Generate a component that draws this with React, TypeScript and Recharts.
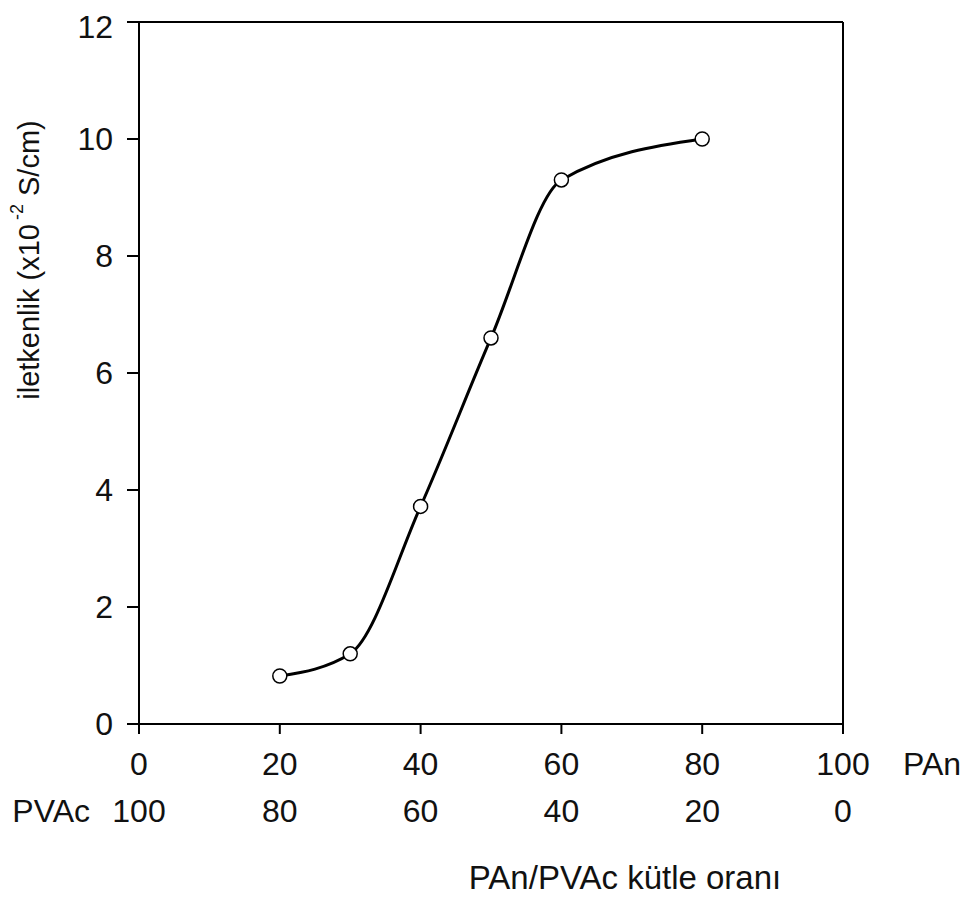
import React from 'react';
import { LineChart, Line, XAxis, YAxis, ReferenceLine } from 'recharts';

// PAn kütle oranı (%) ve iletkenlik (x10^-2 S/cm)
const panRatio = [20, 30, 40, 50, 60, 80];
const conductivity = [0.82, 1.2, 3.72, 6.6, 9.3, 10.0];

const panTicks = [0, 20, 40, 60, 80, 100];
const pvacTicks = [100, 80, 60, 40, 20, 0];
const yTicks = [0, 2, 4, 6, 8, 10, 12];

const data = panRatio.map((x, i) => ({ x, y: conductivity[i] }));

const FONT = '"Liberation Sans", Arial, sans-serif';
const INK = '#111';
const FS = 32;

const XTick = (props: any) => {
  const { x, y, payload, index } = props;
  const i = panTicks.indexOf(payload.value);
  return (
    <g>
      <text x={x} y={y + 39} textAnchor="middle" fontSize={FS} fontFamily={FONT} fill={INK}>
        {payload.value}
      </text>
      <text x={x} y={y + 86} textAnchor="middle" fontSize={FS} fontFamily={FONT} fill={INK}>
        {pvacTicks[i]}
      </text>
      {index === 0 && (
        <text x={x - 49} y={y + 86} textAnchor="end" fontSize={FS} fontFamily={FONT} fill={INK}>
          PVAc
        </text>
      )}
      {i === panTicks.length - 1 && (
        <text x={x + 60} y={y + 39} textAnchor="start" fontSize={FS} fontFamily={FONT} fill={INK}>
          PAn
        </text>
      )}
    </g>
  );
};

const XTitle = (props: any) => {
  const { viewBox } = props;
  return (
    <text x={viewBox.x + 486} y={viewBox.y + 165} textAnchor="middle" fontSize={33} fontFamily={FONT} fill={INK}>
      PAn/PVAc kütle oranı
    </text>
  );
};

const YTitle = () => (
  <text
    x={21}
    y={252}
    transform="rotate(-90 21 252)"
    textAnchor="middle"
    dominantBaseline="central"
    fontSize={29}
    fontFamily={FONT}
    fill={INK}
  >
    iletkenlik (x10
    <tspan fontSize={18} dx={4} dy={-12}>-2</tspan>
    <tspan dy={12}> S/cm)</tspan>
  </text>
);

export default function App() {
  return (
    <div style={{ width: 955, height: 891, background: '#fff' }}>
      <LineChart width={955} height={891} data={data} margin={{ top: 14, right: 120, left: 0, bottom: 0 }}>
        <XAxis
          dataKey="x"
          type="number"
          domain={[0, 100]}
          ticks={panTicks}
          height={175}
          tickSize={10}
          tickMargin={2}
          stroke="#000"
          strokeWidth={2}
          tick={<XTick />}
          label={{ content: <XTitle /> }}
        />
        <YAxis
          type="number"
          domain={[0, 12]}
          ticks={yTicks}
          width={131}
          tickSize={12}
          tickMargin={14}
          stroke="#000"
          strokeWidth={2}
          tick={{ fontSize: FS, fontFamily: FONT, fill: INK }}
          label={{ content: <YTitle /> }}
        />
        <ReferenceLine y={12} stroke="#000" strokeWidth={2} />
        <ReferenceLine x={100} stroke="#000" strokeWidth={2} />
        <Line
          type="monotone"
          dataKey="y"
          stroke="#000"
          strokeWidth={3}
          dot={{ r: 7, fill: '#fff', stroke: '#000', strokeWidth: 1.5 }}
          isAnimationActive={false}
        />
      </LineChart>
    </div>
  );
}
